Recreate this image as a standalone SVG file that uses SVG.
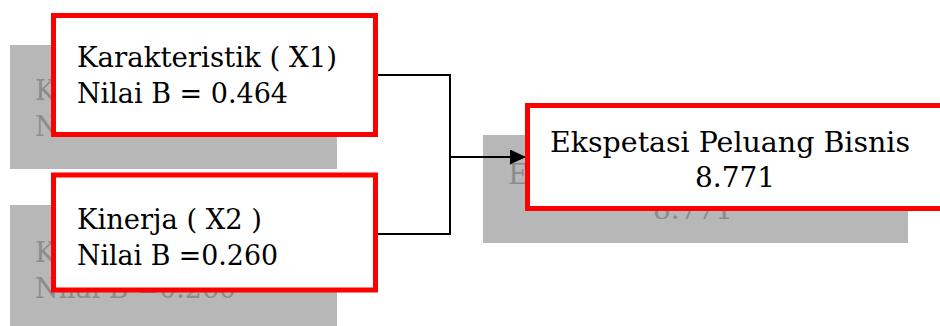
<svg xmlns="http://www.w3.org/2000/svg" width="940" height="326" viewBox="0 0 940 326">
  <style>
    .shadow { fill: #b7b7b7; }
    .ghost { fill: #8c8c8c; font-family: "DejaVu Serif", "Liberation Serif", serif; font-size: 27px; }
    .box { fill: #ffffff; stroke: #ff0000; stroke-width: 5; }
    .label { fill: #000000; font-family: "DejaVu Serif", "Liberation Serif", serif; font-size: 27px; }
    .wire { fill: none; stroke: #000000; stroke-width: 2; }
  </style>
  <defs>
    <marker id="arrow" markerWidth="16" markerHeight="15" refX="16" refY="7.5" orient="auto" markerUnits="userSpaceOnUse">
      <path d="M0,0 L16,7.5 L0,15 Z" fill="#000000"/>
    </marker>
  </defs>

  <!-- drop-shadow panels with faded copies of the labels -->
  <g id="shadows">
    <rect class="shadow" x="10" y="45" width="327" height="124"/>
    <text class="ghost" x="35" y="100" textLength="260" lengthAdjust="spacingAndGlyphs">Karakteristik ( X1)</text>
    <text class="ghost" x="35" y="136" textLength="211" lengthAdjust="spacingAndGlyphs">Nilai B = 0.464</text>

    <rect class="shadow" x="10" y="205" width="327" height="121"/>
    <text class="ghost" x="35" y="262" textLength="185" lengthAdjust="spacingAndGlyphs">Kinerja ( X2 )</text>
    <text class="ghost" x="35" y="298" textLength="201" lengthAdjust="spacingAndGlyphs">Nilai B =0.260</text>

    <rect class="shadow" x="483" y="135" width="425" height="108"/>
    <text class="ghost" x="508" y="184" textLength="360" lengthAdjust="spacingAndGlyphs">Ekspetasi Peluang Bisnis</text>
    <text class="ghost" x="653" y="219" textLength="80" lengthAdjust="spacingAndGlyphs">8.771</text>
  </g>

  <!-- connectors -->
  <g id="connectors">
    <path class="wire" d="M378,75 H450 V234 H378"/>
    <path class="wire" d="M450,157 H526" marker-end="url(#arrow)"/>
  </g>

  <g id="x1">
    <rect class="box" x="53.5" y="15.5" width="322" height="119"/>
    <text class="label" x="77" y="67" textLength="260" lengthAdjust="spacingAndGlyphs">Karakteristik ( X1)</text>
    <text class="label" x="77" y="103" textLength="211" lengthAdjust="spacingAndGlyphs">Nilai B = 0.464</text>
  </g>

  <g id="x2">
    <rect class="box" x="53.5" y="175" width="322" height="115"/>
    <text class="label" x="77" y="229" textLength="185" lengthAdjust="spacingAndGlyphs">Kinerja ( X2 )</text>
    <text class="label" x="77" y="265" textLength="201" lengthAdjust="spacingAndGlyphs">Nilai B =0.260</text>
  </g>

  <g id="y">
    <rect class="box" x="527.5" y="105.5" width="420" height="103"/>
    <text class="label" x="550" y="152" textLength="360" lengthAdjust="spacingAndGlyphs">Ekspetasi Peluang Bisnis</text>
    <text class="label" x="695" y="187" textLength="80" lengthAdjust="spacingAndGlyphs">8.771</text>
  </g>
</svg>
